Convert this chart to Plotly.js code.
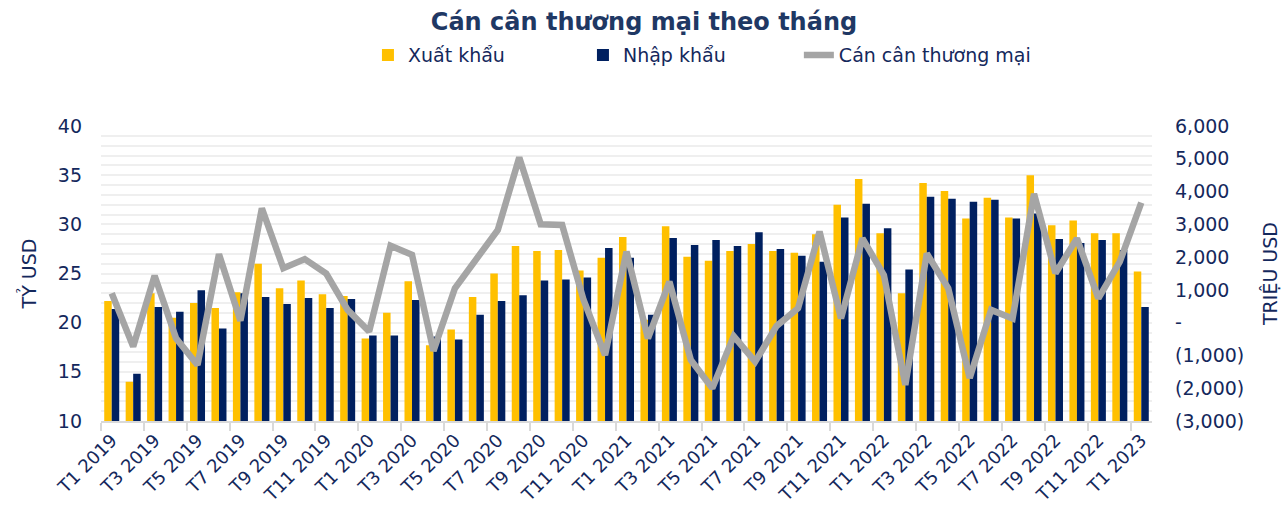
<!DOCTYPE html>
<html>
<head>
<meta charset="utf-8">
<script src="https://cdn.plot.ly/plotly-3.0.1.min.js"></script>
<style>html,body{margin:0;padding:0;background:#fff;}#chart{width:1288px;height:510px;}</style>
</head>
<body>
<div id="chart"></div>
<script>
const months = [
  "T1 2019","T2 2019","T3 2019","T4 2019","T5 2019","T6 2019","T7 2019","T8 2019","T9 2019","T10 2019","T11 2019","T12 2019",
  "T1 2020","T2 2020","T3 2020","T4 2020","T5 2020","T6 2020","T7 2020","T8 2020","T9 2020","T10 2020","T11 2020","T12 2020",
  "T1 2021","T2 2021","T3 2021","T4 2021","T5 2021","T6 2021","T7 2021","T8 2021","T9 2021","T10 2021","T11 2021","T12 2021",
  "T1 2022","T2 2022","T3 2022","T4 2022","T5 2022","T6 2022","T7 2022","T8 2022","T9 2022","T10 2022","T11 2022","T12 2022",
  "T1 2023"
];
// Xuất khẩu (tỷ USD)
const exportsVals = [
  22.2,14.0,23.0,20.5,22.0,21.5,23.1,26.0,23.5,24.3,22.9,22.7,
  18.4,21.0,24.2,17.7,19.3,22.6,25.0,27.8,27.3,27.4,25.3,26.6,
  28.7,20.3,29.8,26.7,26.3,27.3,28.0,27.3,27.1,29.0,32.0,34.6,
  29.1,23.0,34.2,33.4,30.6,32.7,30.7,35.0,29.9,30.4,29.1,29.1,
  25.2
];
// Nhập khẩu (tỷ USD)
const importsVals = [
  21.4,14.8,21.6,21.1,23.3,19.4,23.0,22.6,21.9,22.5,21.5,22.4,
  18.7,18.7,22.3,18.6,18.3,20.8,22.2,22.8,24.3,24.4,24.6,27.6,
  26.6,20.8,28.6,27.9,28.4,27.8,29.2,27.5,26.8,26.2,30.7,32.1,
  29.6,25.4,32.8,32.6,32.3,32.5,30.6,31.1,28.5,28.1,28.4,27.4,
  21.6
];
// Cán cân thương mại (triệu USD)
const balanceVals = [
  900,-730,1430,-480,-1290,2090,60,3490,1660,1940,1500,390,
  -270,2350,2070,-860,1050,1960,2830,5040,3000,2980,690,-990,
  2170,-480,1250,-1140,-2000,-410,-1190,-100,440,2780,130,2570,
  1450,-1900,2110,1050,-1690,390,130,3930,1510,2570,740,1860,
  3660
];
const rightTickVals = [6000,5000,4000,3000,2000,1000,0,-1000,-2000,-3000];
const rightTickText = ["6,000","5,000","4,000","3,000","2,000","1,000","-","(1,000)","(2,000)","(3,000)"];

const idx = months.map((m,i)=>i);
const labelIdx = idx.filter(i=>i%2===0);
const labelText = labelIdx.map(i=>months[i]);

const navyText = "#14285C";
const F = "DejaVu Sans";

const traces = [
  {type:"bar", name:"Xuất khẩu", x:idx, y:exportsVals, marker:{color:"#FFC000"}, hovertext:months, legend:"legend"},
  {type:"bar", name:"Nhập khẩu", x:idx, y:importsVals, marker:{color:"#002060"}, hovertext:months, legend:"legend"},
  {type:"scatter", mode:"lines", name:"Cán cân thương mại", x:idx, y:balanceVals, yaxis:"y2",
   line:{color:"#A5A5A5", width:6.5, shape:"linear"}, hovertext:months, legend:"legend2"}
];

const legendFont = {family:F, size:19, color:navyText};

const layout = {
  width:1288, height:510,
  margin:{l:101, r:136, t:126, b:89},
  paper_bgcolor:"#fff", plot_bgcolor:"#fff",
  font:{family:F, color:navyText, size:18},
  title:{text:"<b>Cán cân thương mại theo tháng</b>", x:0.5, xanchor:"center", y:0.957, yanchor:"middle",
         font:{family:F, size:24, color:"#1F3864"}},
  barmode:"group", bargap:0.3, bargroupgap:0,
  showlegend:true,
  legend:{orientation:"h", x:0.254, xanchor:"left", y:1.24, yanchor:"middle",
          font:legendFont, entrywidth:170, entrywidthmode:"pixels",
          traceorder:"normal", bgcolor:"rgba(0,0,0,0)"},
  legend2:{orientation:"h", x:0.664, xanchor:"left", y:1.24, yanchor:"middle",
          font:legendFont, bgcolor:"rgba(0,0,0,0)"},
  xaxis:{
    type:"linear", range:[-0.5, 48.5], tickmode:"array", tickvals:labelIdx, ticktext:labelText,
    tickangle:-45, ticks:"", showgrid:false, zeroline:false,
    showline:true, linecolor:"#D9D9D9", linewidth:1.5,
    tickfont:{family:F, size:18, color:navyText},
    minor:{tickmode:"linear", tick0:-0.5, dtick:2, ticks:"outside", ticklen:8, tickcolor:"#D9D9D9", tickwidth:1.5, showgrid:false}
  },
  yaxis:{
    range:[10,40], tickmode:"linear", tick0:10, dtick:5, showgrid:true, gridcolor:"#EFEFEF", gridwidth:1.5,
    zeroline:false, showline:false, ticks:"", ticklabelstandoff:18,
    tickfont:{family:F, size:19, color:navyText},
    minor:{dtick:1, showgrid:true, gridcolor:"#EFEFEF", gridwidth:1.5},
    title:{text:"TỶ USD", font:{family:F, size:19, color:navyText}, standoff:16}
  },
  yaxis2:{
    overlaying:"y", side:"right", range:[-3000,6000], tickmode:"array", tickvals:rightTickVals, ticktext:rightTickText,
    showgrid:false, zeroline:false, showline:false, ticks:"", ticklabelstandoff:22,
    tickfont:{family:F, size:19, color:navyText},
    title:{text:"TRIỆU USD", font:{family:F, size:19, color:navyText}, standoff:20}
  }
};

Plotly.newPlot("chart", traces, layout, {displayModeBar:false, responsive:false});
</script>
</body>
</html>
